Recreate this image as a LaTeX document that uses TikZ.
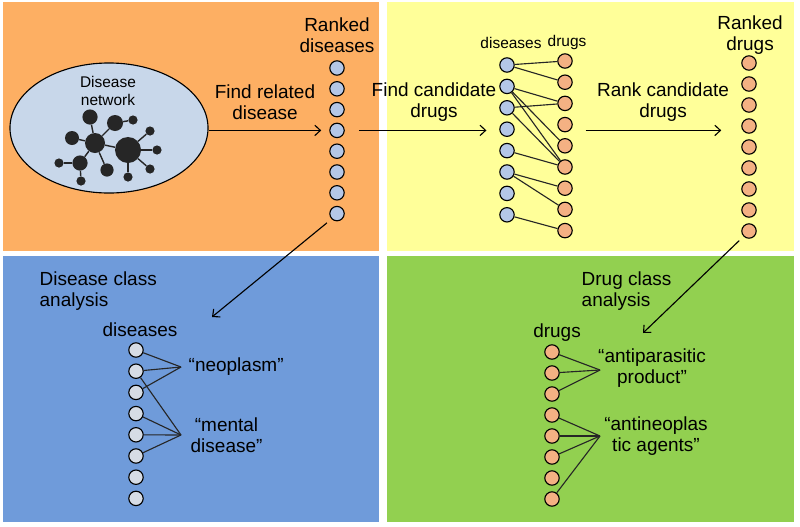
\documentclass[tikz,border=0pt]{standalone}
\usepackage{fontspec}
\setmainfont{Liberation Sans}
\usepackage{tikz}
\usetikzlibrary{calc,positioning,shapes}
\usetikzlibrary{arrows.meta}
\tikzset{>={Straight Barb[width=2.6mm,length=1.4mm]}}
\definecolor{panelorange}{RGB}{253,175,99}
\definecolor{panelyellow}{RGB}{255,255,153}
\definecolor{panelblue}{RGB}{111,155,218}
\definecolor{panelgreen}{RGB}{146,208,80}
\definecolor{netback}{RGB}{200,215,234}
\definecolor{netdark}{RGB}{38,38,38}
\definecolor{disblue}{RGB}{180,199,231}
\definecolor{drugsalmon}{RGB}{244,177,131}
\definecolor{cellgray}{RGB}{214,220,229}

\begin{document}
\begin{tikzpicture}[x=0.025cm, y=-0.025cm]
  \tikzstyle{lbl} = [align=center, inner sep=1pt, font=\fontsize{13.5}{15}\selectfont]
  \tikzstyle{slbl} = [align=center, inner sep=1pt, font=\fontsize{11}{12.5}\selectfont]
  \tikzstyle{dnode} = [circle, draw=black, line width=0.8pt, fill=disblue, minimum size=3.6mm, inner sep=0pt]
  \tikzstyle{gnode} = [dnode, fill=drugsalmon]
  \tikzstyle{cnode} = [dnode, fill=cellgray]
  \tikzstyle{netnode} = [circle, fill=netdark, inner sep=0pt]
  \tikzstyle{link} = [line width=0.8pt, draw=black!85]
  \tikzstyle{netlink} = [line width=1pt, draw=netdark]
  \tikzstyle{flow} = [->, line width=0.8pt]

  % the four panels
  \useasboundingbox (0,0) rectangle (800,526);
  \fill[panelorange] (3,2) rectangle (379,251);
  \fill[panelyellow] (387,2) rectangle (794,251);
  \fill[panelblue] (3,256) rectangle (379,522);
  \fill[panelgreen] (387,256) rectangle (794,522);

  % disease network
  \node[ellipse, draw=black, line width=0.8pt, fill=netback, minimum width=49.5mm, minimum height=32.5mm] (net) at (109,128) {};
  \node[slbl] (netlbl) at (108,91) {Disease\\network};
  \node[netnode, minimum size=6.5mm] (na) at (128,150) {};
  \node[netnode, minimum size=5mm] (nb) at (95,143) {};
  \node[netnode, minimum size=3.8mm] (nc) at (90,117) {};
  \node[netnode, minimum size=4mm] (nd) at (115,123) {};
  \node[netnode, minimum size=2.3mm] (ne) at (133,120) {};
  \node[netnode, minimum size=3.5mm] (nf) at (72,138) {};
  \node[netnode, minimum size=3.8mm] (ng) at (80,163) {};
  \node[netnode, minimum size=2.3mm] (nh) at (59,163) {};
  \node[netnode, minimum size=2.3mm] (ni) at (81,181) {};
  \node[netnode, minimum size=3.3mm] (nj) at (107,170) {};
  \node[netnode, minimum size=2.3mm] (nk) at (128,177) {};
  \node[netnode, minimum size=2.3mm] (nl) at (150,131) {};
  \node[netnode, minimum size=2.3mm] (nm) at (157,150) {};
  \node[netnode, minimum size=2.3mm] (nn) at (150,169) {};
  \draw[netlink] (nb) -- (nc);
  \draw[netlink] (nb) -- (nd);
  \draw[netlink] (nd) -- (ne);
  \draw[netlink] (nb) -- (nf);
  \draw[netlink] (nb) -- (ng);
  \draw[netlink] (ng) -- (nh);
  \draw[netlink] (ng) -- (ni);
  \draw[netlink] (nb) -- (nj);
  \draw[netlink] (nb) -- (na);
  \draw[netlink] (na) -- (nl);
  \draw[netlink] (na) -- (nm);
  \draw[netlink] (na) -- (nn);
  \draw[netlink] (na) -- (nk);

  % ranked diseases
  \node[lbl] (rdlbl) at (337,35) {Ranked\\diseases};
  \foreach \i in {1,...,8}
    \node[dnode] (rd\i) at (337, {68+(\i-1)*20.8}) {};

  \node[lbl] (findrel) at (265,102) {Find related\\disease};
  \draw[flow, shorten >=2mm] (net.east |- rd4) -- (rd4.west);

  % candidate drugs
  \node[slbl] (ydlbl) at (511,43) {diseases};
  \node[slbl] (yglbl) at (567,43) {drugs};
  \foreach \i in {1,...,8}
    \node[dnode] (yd\i) at (507, {65+(\i-1)*21.4}) {};
  \foreach \i in {1,...,9}
    \node[gnode] (yg\i) at (565, {61+(\i-1)*21.2}) {};
  \draw[link] (yd1) -- (yg1);
  \draw[link] (yd1) -- (yg2);
  \draw[link] (yd2) -- (yg3);
  \draw[link] (yd2) -- (yg5);
  \draw[link] (yd2) -- (yg6);
  \draw[link] (yd3) -- (yg3);
  \draw[link] (yd3) -- (yg6);
  \draw[link] (yd5) -- (yg6);
  \draw[link] (yd6) -- (yg7);
  \draw[link] (yd6) -- (yg8);
  \draw[link] (yd8) -- (yg9);

  \node[lbl] (findcand) at (434,102) {Find candidate\\drugs};
  \draw[flow, shorten <=3.5mm, shorten >=3.2mm] (rd4.east) -- (rd4 -| yd4.west);

  % ranked drugs
  \node[lbl] (rklbl) at (750,35) {Ranked\\drugs};
  \foreach \i in {1,...,9}
    \node[gnode] (rk\i) at (749, {63+(\i-1)*21}) {};

  \node[lbl] (rankcand) at (663,102) {Rank candidate\\drugs};
  \draw[flow, shorten <=3.2mm, shorten >=5mm] (rd4 -| yg4.east) -- (rd4 -| rk4.west);

  % disease classes
  \coordinate (dcatip) at (212,317);
  \node[lbl, anchor=west, align=left] (dclass) at (38,291) {Disease class\\analysis};
  \draw[flow, shorten <=1.5mm] (rd8.south west) -- (dcatip);
  \node[lbl] (bdlbl) at (140,330) {diseases};
  \foreach \i in {1,...,8}
    \node[cnode] (bd\i) at (136, {350+(\i-1)*21.2}) {};
  \coordinate (neohub) at (181,367);
  \coordinate (menthub) at (181,435);
  \draw[link] (bd1) -- (neohub);
  \draw[link] (bd2) -- (neohub);
  \draw[link] (bd3) -- (neohub);
  \draw[link] (bd2) -- (menthub);
  \draw[link] (bd4) -- (menthub);
  \draw[link] (bd5) -- (menthub);
  \draw[link] (bd6) -- (menthub);
  \node[lbl, right=1.5mm of neohub] (neo) {“neoplasm”};
  \node[lbl, right=2mm of menthub] (ment) {“mental\\disease”};

  % drug classes
  \coordinate (drcatip) at (643,333);
  \node[lbl, anchor=west, align=left] (drclass) at (580,291) {Drug class\\analysis};
  \draw[flow, shorten <=1.5mm] (rk9.south west) -- (drcatip);
  \node[lbl] (gdlbl) at (557,333) {drugs};
  \foreach \i in {1,...,8}
    \node[gnode] (gd\i) at (552, {352+(\i-1)*21}) {};
  \coordinate (parahub) at (600,370);
  \coordinate (neophub) at (600,436);
  \draw[link] (gd1) -- (parahub);
  \draw[link] (gd2) -- (parahub);
  \draw[link] (gd3) -- (parahub);
  \draw[link] (gd4) -- (neophub);
  \draw[link] (gd5) -- (neophub);
  \draw[link] (gd6) -- (neophub);
  \draw[link] (gd8) -- (neophub);
  \node[lbl] (para) at (652,368) {“antiparasitic\\product”};
  \node[lbl] (neopl) at (656,436) {“antineoplas\\tic agents”};
\end{tikzpicture}
\end{document}
